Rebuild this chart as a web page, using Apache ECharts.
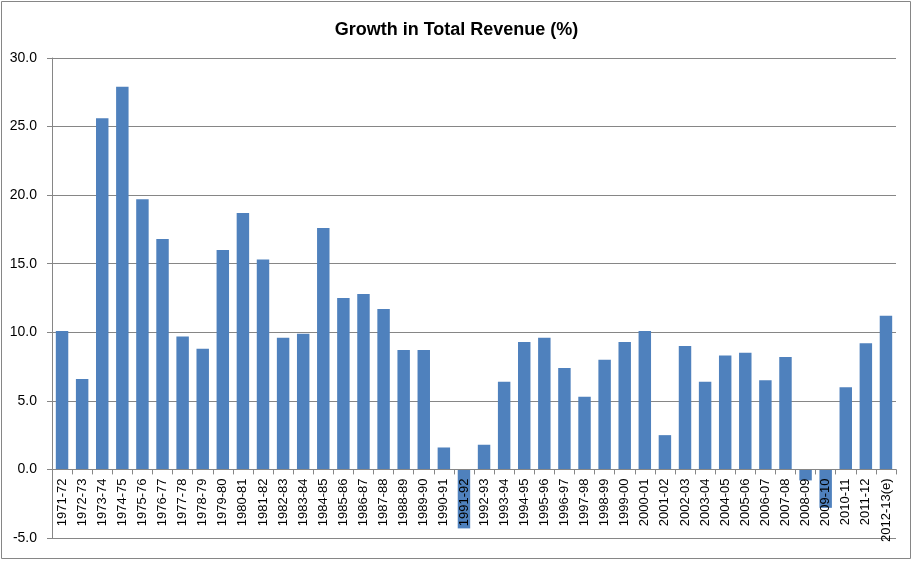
<!DOCTYPE html>
<html>
<head>
<meta charset="utf-8">
<script src="https://cdn.jsdelivr.net/npm/echarts@6/dist/echarts.min.js"></script>
<style>
  html, body { margin: 0; padding: 0; background: #fff; }
  #chart { width: 913px; height: 561px; }
</style>
</head>
<body>
<div id="chart"></div>
<script>
var years = ['1971-72','1972-73','1973-74','1974-75','1975-76','1976-77','1977-78','1978-79','1979-80','1980-81',
  '1981-82','1982-83','1983-84','1984-85','1985-86','1986-87','1987-88','1988-89','1989-90','1990-91',
  '1991-92','1992-93','1993-94','1994-95','1995-96','1996-97','1997-98','1998-99','1999-00','2000-01',
  '2001-02','2002-03','2003-04','2004-05','2005-06','2006-07','2007-08','2008-09','2009-10','2010-11',
  '2011-12','2012-13(e)'];
var growth = [10.1, 6.6, 25.6, 27.9, 19.7, 16.8, 9.7, 8.8, 16.0, 18.7,
  15.3, 9.6, 9.9, 17.6, 12.5, 12.8, 11.7, 8.7, 8.7, 1.6,
  -4.3, 1.8, 6.4, 9.3, 9.6, 7.4, 5.3, 8.0, 9.3, 10.1,
  2.5, 9.0, 6.4, 8.3, 8.5, 6.5, 8.2, -0.8, -2.8, 6.0,
  9.2, 11.2];
var yMin = -5, yMax = 30;

var gridTop = 58, gridBottom = 23;
var gridH = 561 - gridTop - gridBottom;
// shift the category axis up so it sits on the zero line
var zeroOffset = -gridH * (0 - yMin) / (yMax - yMin);

var myChart = echarts.init(document.getElementById('chart'));
var option = {
  animation: false,
  title: {
    text: 'Growth in Total Revenue (%)',
    left: 'center',
    top: 16,
    textStyle: { fontFamily: 'Liberation Sans', fontSize: 18, fontWeight: 'bold', color: '#000' }
  },
  graphic: [{
    type: 'rect',
    shape: { x: 1.5, y: 1.5, width: 909, height: 557 },
    style: { fill: null, stroke: '#868686', lineWidth: 1 },
    silent: true
  }],
  grid: { left: 52, right: 17, top: gridTop, bottom: gridBottom, containLabel: false, outerBoundsMode: 'none' },
  xAxis: {
    type: 'category',
    data: years,
    z: 10,
    offset: zeroOffset,
    axisLine: { onZero: false, lineStyle: { color: '#868686' } },
    axisTick: { show: true, length: 5, lineStyle: { color: '#868686' } },
    axisLabel: {
      rotate: 90,
      interval: 0,
      margin: 9,
      color: '#000',
      fontFamily: 'Liberation Sans',
      fontSize: 13
    }
  },
  yAxis: {
    type: 'value',
    min: yMin,
    max: yMax,
    interval: 5,
    axisLine: { show: true, lineStyle: { color: '#868686' } },
    axisTick: { show: true, length: 5, inside: false, lineStyle: { color: '#868686' } },
    splitLine: { lineStyle: { color: '#868686' } },
    axisLabel: {
      margin: 15,
      color: '#000',
      fontFamily: 'Liberation Sans',
      fontSize: 14,
      formatter: function (v) { return v.toFixed(1); }
    }
  },
  series: [{
    type: 'bar',
    data: growth,
    barWidth: '62%',
    itemStyle: { color: '#4F81BD' }
  }]
};
myChart.setOption(option);
</script>
</body>
</html>
